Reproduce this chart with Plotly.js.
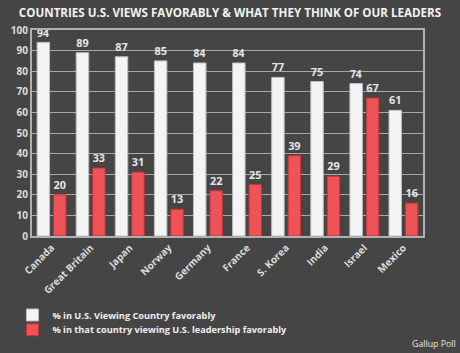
<!DOCTYPE html>
<html><head><meta charset="utf-8">
<script src="https://cdn.plot.ly/plotly-3.0.1.min.js"></script>
<style>html,body{margin:0;padding:0;background:#454545;}#chart{width:460px;height:353px;}</style>
</head><body><div id="chart"></div>
<script>
var countries = ["Canada","Great Britain","Japan","Norway","Germany","France","S. Korea","India","Israel","Mexico"];
var usViewing = [94,89,87,85,84,84,77,75,74,61];
var countryViewingUS = [20,33,31,13,22,25,39,29,67,16];
var seriesNames = ["% in U.S. Viewing Country favorably","% in that country viewing U.S. leadership favorably"];
var yTicks = [0,10,20,30,40,50,60,70,80,90,100];

var fnt = "Open Sans, sans-serif";
var traces = [
  {type:"bar", name:seriesNames[0], x:countries, y:usViewing, legend:"legend",
   marker:{color:"#f4f4f4", line:{color:"#bdbdbd", width:1}},
   text:usViewing.map(String), textposition:"outside", cliponaxis:false,
   textfont:{family:fnt, size:11, color:"#e6e6e6", weight:"bold"}},
  {type:"bar", name:seriesNames[1], x:countries, y:countryViewingUS, legend:"legend2",
   marker:{color:"#ef5257", line:{color:"#c0323a", width:1}},
   text:countryViewingUS.map(String), textposition:"outside", cliponaxis:false,
   textfont:{family:fnt, size:11, color:"#e6e6e6", weight:"bold"}}
];
var legFont = {family:fnt, size:9.2, color:"#f0f0f0", weight:"bold"};
var layout = {
  width:460, height:353,
  paper_bgcolor:"#454545", plot_bgcolor:"#454545",
  margin:{l:32, r:37, t:30, b:117, autoexpand:false},
  title:{text:"COUNTRIES U.S. VIEWS FAVORABLY & WHAT THEY THINK OF OUR LEADERS",
    font:{family:fnt, size:11.6, color:"#f2f2f2", weight:"bold"}, x:0.5, xanchor:"center", y:0.963, yanchor:"middle"},
  barmode:"group", bargap:0.16, bargroupgap:0.24,
  xaxis:{tickangle:-45, tickfont:{family:fnt, size:10, color:"#dcdcdc", weight:"bold"},
    showline:true, linecolor:"#b0b0b0", linewidth:2, mirror:true, ticks:"", showgrid:false},
  yaxis:{range:[0,100], tickvals:yTicks, ticktext:yTicks.map(String),
    tickfont:{family:fnt, size:10, color:"#dcdcdc", weight:"bold"},
    showline:true, linecolor:"#b0b0b0", linewidth:2, mirror:true,
    gridcolor:"#a8a8a8", gridwidth:1, ticks:"", zeroline:false},
  showlegend:true,
  legend:{orientation:"v", x:-0.05, xanchor:"left", y:-0.313, yanchor:"top",
    font:legFont, bgcolor:"rgba(0,0,0,0)"},
  legend2:{orientation:"v", x:-0.05, xanchor:"left", y:-0.385, yanchor:"top",
    font:legFont, bgcolor:"rgba(0,0,0,0)"},
  annotations:[{text:"Gallup Poll", xref:"paper", yref:"paper", x:1.09, y:-0.525, xanchor:"right", yanchor:"middle",
    showarrow:false, font:{family:fnt, size:8.8, color:"#e6e6e6"}}]
};
Plotly.newPlot("chart", traces, layout, {displayModeBar:false, staticPlot:true});
</script></body></html>
